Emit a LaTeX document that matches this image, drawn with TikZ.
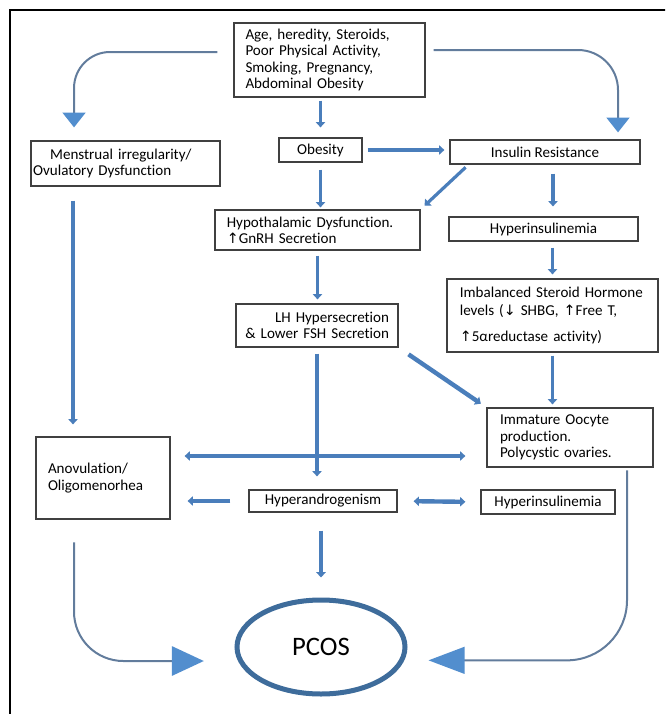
\documentclass[tikz,border=0pt]{standalone}
\usepackage{fontspec}
\setmainfont{Carlito}[Ligatures=NoCommon]
\newfontfamily\symb{DejaVu Sans}[Scale=0.95]
\usetikzlibrary{arrows.meta,shapes.geometric,calc}
\definecolor{bleu}{RGB}{74,126,187}
\definecolor{bleugris}{RGB}{98,124,156}
\definecolor{pointe}{RGB}{82,142,206}
\definecolor{bord}{RGB}{62,108,155}
\newcommand{\flh}{{\symb ↑}}
\newcommand{\flb}{{\symb ↓}}
\begin{document}
\begin{tikzpicture}[x=0.75pt,y=-0.75pt,>={Triangle[length=4pt,width=7pt]}]
\tikzset{boite/.style={draw=black!75, line width=0.9pt, inner sep=0pt, align=left, font=\fontsize{11.3}{12.2}\selectfont},
fleche/.style={draw=bleu, line width=2.4pt, ->},
gros/.style={draw=bleu, line width=3.3pt, ->},
courbe/.style={draw=bleugris, line width=1.5pt, -{Triangle[length=11pt,width=17pt,color=pointe]}}}
\clip (0,0) rectangle (665,714);
\draw[line width=1.9pt] (10,720) -- (10,10) -- (670,10);
\node[boite, minimum width=143.25pt, minimum height=55.5pt, text width=126pt] (age) at (329.5,60) {Age, heredity, Steroids,\\Poor Physical Activity,\\Smoking, Pregnancy,\\Abdominal Obesity};
\node[boite, minimum width=141.75pt, minimum height=33.75pt, text width=138.5pt] (menstr) at (125.5,163.5) {\hspace*{12.75pt}Menstrual irregularity/\\Ovulatory Dysfunction};
\node[boite, minimum width=62.25pt, minimum height=18pt] (obes) at (320.5,150) {Obesity};
\node[boite, minimum width=142.5pt, minimum height=18pt] (insul) at (545,152) {Insulin Resistance};
\node[boite, minimum width=153.75pt, minimum height=30pt, text width=136pt] (hypo) at (317.5,230) {Hypothalamic Dysfunction.\\\flh GnRH Secretion};
\node[boite, minimum width=141.75pt, minimum height=18pt] (hins1) at (543.5,229) {Hyperinsulinemia};
\node[boite, minimum width=121.5pt, minimum height=32.25pt, text width=108pt, align=right] (lh) at (317,325.5) {LH Hypersecretion\\\& Lower FSH Secretion};
\node[boite, minimum width=158.25pt, minimum height=54.75pt, text width=139pt] (deseq) at (552.5,315.5) {Imbalanced Steroid Hormone\\[1pt]levels (\flb{} SHBG, \flh Free T,\\[7pt]\flh 5αreductase activity)};
\node[boite, minimum width=124.5pt, minimum height=44.25pt, text width=105pt] (ovo) at (570,437.5) {Immature Oocyte\\production.\\Polycystic ovaries.};
\node[boite, minimum width=100.5pt, minimum height=61.5pt, text width=82.5pt] (anov) at (103,478) {Anovulation/\\Oligomenorhea};
\node[boite, minimum width=111pt, minimum height=16.5pt] (handro) at (323,501) {Hyperandrogenism};
\node[boite, minimum width=100.5pt, minimum height=18pt] (hins2) at (548,502) {Hyperinsulinemia};
\node[ellipse, draw=bord, line width=3.75pt, minimum width=126pt, minimum height=70.5pt, inner sep=0pt, font=\fontsize{20}{24}\selectfont] (pcos) at (321,647) {PCOS};
\coordinate (croix) at (321,456);
\draw[courbe, rounded corners=27pt, shorten >=9.75pt] ([xshift=-12pt,yshift=6pt]age.west) -| ([xshift=-38.6pt]menstr.north);
\draw[courbe, rounded corners=30pt, shorten >=5.25pt] ([xshift=6pt,yshift=7.5pt]age.east) -| ([xshift=54.75pt]insul.north);
\draw[courbe, rounded corners=37pt, shorten >=23pt, -{Triangle[length=24pt,width=22pt,color=pointe]}] ([xshift=-21.75pt,yshift=-17pt]anov.south) |- ([yshift=-10.5pt]pcos.west);
\draw[courbe, rounded corners=45pt, shorten >=15.75pt, -{Triangle[length=27pt,width=20pt,color=pointe]}] ([xshift=42.75pt,yshift=-2pt]ovo.south) |- ([yshift=-10pt]pcos.east);
\draw[fleche, shorten <=2.25pt, shorten >=7.5pt] (age.south -| obes.north) -- (obes.north);
\draw[gros, shorten <=3.75pt, shorten >=3.75pt] (obes.east) -- (insul.west |- obes.east);
\draw[fleche, shorten <=5.25pt, shorten >=1.5pt] (obes.south) -- (obes.south |- hypo.north);
\draw[fleche, shorten <=3pt, shorten >=4pt] ($(insul.south west)!0.1!(insul.south east)$) -- (hypo.north east);
\draw[fleche, shorten <=6.75pt, shorten >=7.5pt] ([xshift=6pt]insul.south) -- ([xshift=6pt]insul.south |- hins1.north);
\draw[fleche, shorten <=3.75pt, shorten >=3pt] (hypo.south) -- (hypo.south |- lh.north);
\draw[fleche, shorten <=4.5pt, shorten >=3pt] (deseq.north |- hins1.south) -- (deseq.north);
\draw[fleche, shorten <=2.25pt, shorten >=2.25pt] (deseq.south) -- (deseq.south |- ovo.north);
\draw[gros, shorten <=9pt, shorten >=5pt] (lh.south east) -- (ovo.north west);
\draw[fleche, shorten <=4.5pt, shorten >=9.75pt] (lh.south) -- (lh.south |- handro.north);
\draw[gros, <->, shorten <=10.5pt, shorten >=15.75pt] (anov.east |- croix) -- (ovo.west |- croix);
\draw[gros, shorten <=13.5pt, shorten >=12.75pt] (handro.west) -- (anov.east |- handro.west);
\draw[gros, <->, shorten <=12pt, shorten >=11.25pt] (handro.east) -- (hins2.west);
\draw[fleche, shorten <=13.5pt, shorten >=15pt] (pcos.north |- handro.south) -- (pcos.north);
\draw[fleche, shorten <=10.5pt, shorten >=9pt] ([xshift=-22.5pt]anov.north |- menstr.south) -- ([xshift=-22.5pt]anov.north);
\end{tikzpicture}
\end{document}
